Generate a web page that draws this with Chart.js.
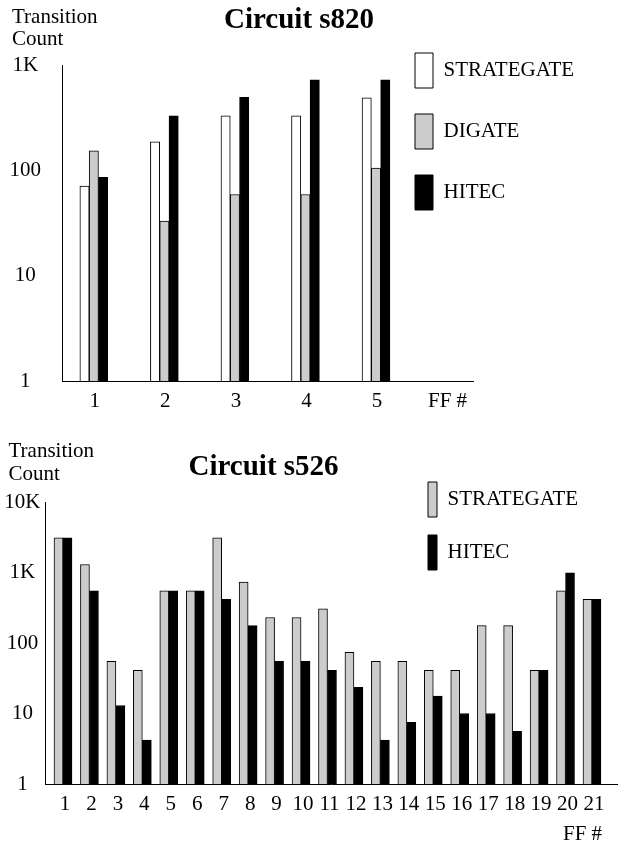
<!DOCTYPE html>
<html><head><meta charset="utf-8">
<script src="https://cdn.jsdelivr.net/npm/chart.js@4/dist/chart.umd.min.js"></script>
<style>
html,body{margin:0;padding:0;background:#fff;width:618px;height:842px;overflow:hidden}
#c1{position:absolute;left:0;top:0}
#c2{position:absolute;left:0;top:425px}
</style></head><body>
<canvas id="c1" width="618" height="425"></canvas>
<canvas id="c2" width="618" height="417"></canvas>
<script>
// ---- Circuit s820 ----
const s820Categories = [1, 2, 3, 4, 5];
const s820XTickValues = [1, 2, 3, 4, 5, 6];
const s820XTickLabels = ['1', '2', '3', '4', '5', 'FF #'];
const s820Strategate = [71, 186, 330, 330, 488];
const s820Digate = [153, 33, 59, 59, 105];
const s820Hitec = [86, 330, 492, 724, 724];
const s820YTickValues = [1, 10, 100, 1000];
const s820YTickLabels = ['1', '10', '100', '1K'];

// ---- Circuit s526 ----
const s526Categories = [1,2,3,4,5,6,7,8,9,10,11,12,13,14,15,16,17,18,19,20,21];
const s526XTickLabels = ['1','2','3','4','5','6','7','8','9','10','11','12','13','14','15','16','17','18','19','20','21'];
const s526Strategate = [3100, 1300, 55, 41, 550, 550, 3100, 730, 230, 230, 305, 74, 55, 55, 41, 41, 176, 176, 41, 550, 415];
const s526Hitec = [3100, 550, 13, 4.2, 550, 550, 415, 176, 55, 55, 41, 23.5, 4.2, 7.5, 17.7, 10, 10, 5.6, 41, 990, 415];
const s526YTickValues = [1, 10, 100, 1000, 10000];
const s526YTickLabels = ['1', '10', '100', '1K', '10K'];

const SERIF = "'Liberation Serif', 'Times New Roman', serif";
const GRAY = '#cccccc';

const freeText = {
  id: 'freeText',
  afterDraw(chart, args, opts) {
    const ctx = chart.ctx;
    (opts.items || []).forEach(it => {
      ctx.save();
      ctx.font = it.font;
      ctx.fillStyle = '#000';
      ctx.textAlign = 'left';
      ctx.textBaseline = 'alphabetic';
      ctx.fillText(it.text, it.x, it.y);
      ctx.restore();
    });
  }
};
const placeLegend = {
  id: 'placeLegend',
  beforeDraw(chart, args, opts) {
    const lg = chart.legend;
    if (!lg) return;
    const pad = chart.options.plugins.legend.labels.padding;
    lg.left = opts.x - pad;
    lg.top = opts.y - pad;
    lg.width = 260; lg.height = 400;
    lg.right = lg.left + 260;
    lg.bottom = lg.top + 400;
  }
};

const pts = (cats, vals) => cats.map((c, i) => ({x: c, y: vals[i]}));

function makeChart(id, cfg) {
  return new Chart(document.getElementById(id), {
    type: 'bar',
    data: { datasets: cfg.datasets },
    options: {
      responsive: false,
      animation: false,
      layout: { padding: cfg.padding },
      plugins: {
        legend: {
          position: 'chartArea',
          align: 'start',
          labels: {
            boxWidth: cfg.legend.boxWidth, boxHeight: 35, padding: cfg.legend.padding,
            color: '#000', font: { family: SERIF, size: 21 }
          }
        },
        placeLegend: { x: cfg.legend.x, y: cfg.legend.y },
        freeText: { items: cfg.texts },
        tooltip: { enabled: false },
        title: { display: false }
      },
      scales: {
        x: {
          type: 'linear', offset: false, bounds: 'data', min: cfg.xMin, max: cfg.xMax,
          afterBuildTicks: s => { s.ticks = cfg.xTicks.map(v => ({value: v})); },
          afterFit: s => { s.height = cfg.xHeight; },
          ticks: {
            autoSkip: false, maxRotation: 0, padding: 8, color: '#000', labelOffset: cfg.xLabelOffset,
            font: { family: SERIF, size: 21 },
            callback: v => cfg.xLabels[cfg.xTicks.indexOf(v)]
          },
          grid: { drawOnChartArea: false, drawTicks: false, offset: false },
          border: { display: true, color: '#000', width: 1 }
        },
        y: {
          type: 'logarithmic', min: 1, max: cfg.yMax,
          afterBuildTicks: s => { s.ticks = cfg.yTicks.map(v => ({value: v})); },
          afterFit: s => { s.width = cfg.yWidth; },
          ticks: {
            crossAlign: 'center', padding: cfg.yPad, color: '#000',
            font: { family: SERIF, size: 21 },
            callback: v => cfg.yLabels[cfg.yTicks.indexOf(v)]
          },
          grid: { drawOnChartArea: false, drawTicks: false },
          border: { display: true, color: '#000', width: 1 }
        }
      }
    },
    plugins: [freeText, placeLegend]
  });
}

makeChart('c1', {
  padding: { top: 65, right: 145, bottom: 0, left: 0 },
  datasets: [
    { label: 'STRATEGATE', data: pts(s820Categories, s820Strategate), backgroundColor: '#ffffff', borderColor: '#000', borderWidth: 1, barThickness: 9.3 },
    { label: 'DIGATE', data: pts(s820Categories, s820Digate), backgroundColor: GRAY, borderColor: '#000', borderWidth: 1, barThickness: 9.3 },
    { label: 'HITEC', data: pts(s820Categories, s820Hitec), backgroundColor: '#000000', borderColor: '#000', borderWidth: 1, barThickness: 9.3 }
  ],
  legend: { boxWidth: 18, padding: 26, x: 415, y: 53 },
  xMin: 0.549, xMax: 6.375, xTicks: s820XTickValues, xLabels: s820XTickLabels, xHeight: 44, xLabelOffset: 1,
  yMax: 1000, yTicks: s820YTickValues, yLabels: s820YTickLabels, yWidth: 62, yPad: 21,
  texts: [
    { text: 'Transition', x: 12, y: 22.5, font: '21px ' + SERIF },
    { text: 'Count', x: 12, y: 45, font: '21px ' + SERIF },
    { text: 'Circuit s820', x: 224, y: 28, font: 'bold 29px ' + SERIF }
  ]
});

makeChart('c2', {
  padding: { top: 77, right: 1, bottom: 0, left: 0 },
  datasets: [
    { label: 'STRATEGATE', data: pts(s526Categories, s526Strategate), backgroundColor: GRAY, borderColor: '#000', borderWidth: 1, barThickness: 9 },
    { label: 'HITEC', data: pts(s526Categories, s526Hitec), backgroundColor: '#000000', borderColor: '#000', borderWidth: 1, barThickness: 9 }
  ],
  legend: { boxWidth: 9, padding: 18, x: 428, y: 57 },
  xMin: 0.3195, xMax: 21.946, xTicks: s526Categories, xLabels: s526XTickLabels, xHeight: 58, xLabelOffset: 2,
  yMax: 10000, yTicks: s526YTickValues, yLabels: s526YTickLabels, yWidth: 45, yPad: 4.5,
  texts: [
    { text: 'Transition', x: 8.5, y: 31.7, font: '21px ' + SERIF },
    { text: 'Count', x: 8.5, y: 55, font: '21px ' + SERIF },
    { text: 'Circuit s526', x: 188.5, y: 50, font: 'bold 29px ' + SERIF },
    { text: 'FF #', x: 563, y: 415, font: '21px ' + SERIF }
  ]
});
</script>
</body></html>
